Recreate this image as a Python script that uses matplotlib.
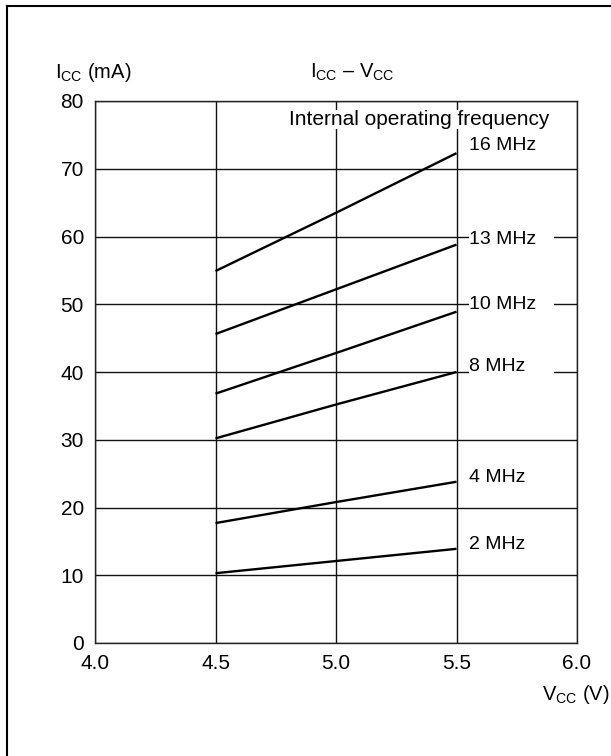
import matplotlib
matplotlib.use("Agg")
import matplotlib.pyplot as plt
from matplotlib.patches import Rectangle
from matplotlib.lines import Line2D

plt.rcParams['font.family'] = ['Liberation Sans', 'DejaVu Sans']
plt.rcParams['mathtext.fontset'] = 'custom'
plt.rcParams['mathtext.rm'] = 'Liberation Sans'

# supply voltage points (V)
vcc = [4.5, 5.0, 5.5]

# supply current (mA) per internal operating frequency
icc_2mhz = [10.3, 12.1, 13.9]
icc_4mhz = [17.7, 20.8, 23.8]
icc_8mhz = [30.2, 35.2, 40.0]
icc_10mhz = [36.8, 42.8, 48.9]
icc_13mhz = [45.6, 52.2, 58.8]
icc_16mhz = [54.9, 63.5, 72.3]

freq_labels = ['2 MHz', '4 MHz', '8 MHz', '10 MHz', '13 MHz', '16 MHz']
label_y = [14.5, 24.5, 40.8, 50.0, 59.6, 73.5]

xticks = [4.0, 4.5, 5.0, 5.5, 6.0]
yticks = [0, 10, 20, 30, 40, 50, 60, 70, 80]

W, H = 611, 756
fig = plt.figure(figsize=(W / 100, H / 100), dpi=100)
ax = fig.add_axes([95 / W, 1 - 643 / H, (577 - 95) / W, (643 - 101) / H])

ax.set_xlim(4.0, 6.0)
ax.set_ylim(0, 80)
ax.set_xticks(xticks)
ax.set_xticklabels(['%.1f' % v for v in xticks])
ax.set_yticks(yticks)
ax.tick_params(length=0, labelsize=15)
ax.tick_params(axis='x', pad=8)
ax.tick_params(axis='y', pad=8)
for s in ax.spines.values():
    s.set_linewidth(1.0)
    s.set_color('#222222')

ax.set_axisbelow(True)
ax.grid(True, color='#111111', linewidth=1.0)

series = [icc_2mhz, icc_4mhz, icc_8mhz, icc_10mhz, icc_13mhz, icc_16mhz]
for vals in series:
    ax.plot(vcc, vals, color='black', linewidth=1.7, zorder=2,
            solid_capstyle='butt')

# labels sit on white patches that break the horizontal grid lines
for lab, y in zip(freq_labels, label_y):
    ax.add_patch(Rectangle((5.552, y - 1.3), 0.353, 2.6, facecolor='white',
                           edgecolor='none', zorder=1))
    ax.text(5.552, y, lab, fontsize=14, ha='left', va='center', zorder=3)

ax.text(5.344, 77.2, 'Internal operating frequency', fontsize=15,
        ha='center', va='center', zorder=3,
        bbox=dict(boxstyle='square,pad=0', facecolor='white', edgecolor='none'))

fig.text(55 / W, 1 - 72 / H, r'I$_{\mathrm{CC}}$ (mA)', fontsize=14.5,
         ha='left', va='center')
fig.text(352 / W, 1 - 72 / H, r'I$_{\mathrm{CC}}$ – V$_{\mathrm{CC}}$',
         fontsize=14.5, ha='center', va='center')
fig.text(610 / W, 1 - 695 / H, r'V$_{\mathrm{CC}}$ (V)', fontsize=14.5,
         ha='right', va='center')

# outer frame (left and top edges visible)
fig.add_artist(Line2D([6.5 / W, 6.5 / W], [0, 1 - 5.5 / H],
                      color='black', linewidth=1.5, transform=fig.transFigure))
fig.add_artist(Line2D([6.5 / W, 1], [1 - 5.5 / H, 1 - 5.5 / H],
                      color='black', linewidth=1.5, transform=fig.transFigure))

fig.savefig('out.png', dpi=100)
